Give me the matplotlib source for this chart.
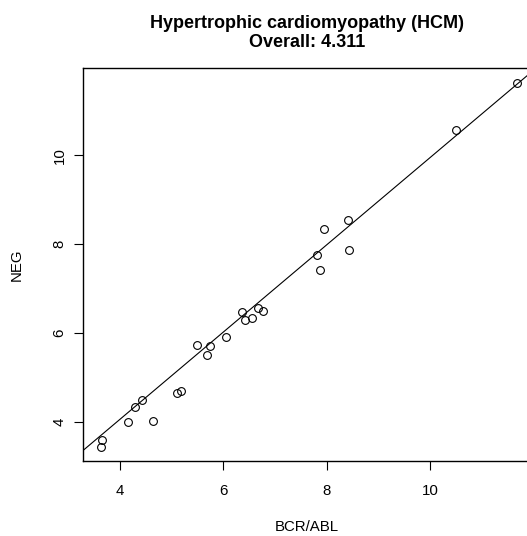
import matplotlib
matplotlib.use("Agg")
import matplotlib.pyplot as plt

# Data
bcr_abl = [3.67, 3.65, 4.17, 4.30, 4.44, 4.65, 5.11, 5.19, 5.50, 5.69, 5.74, 6.06,
           6.36, 6.43, 6.56, 6.68, 6.77, 7.82, 7.87, 7.95, 8.41, 8.43, 10.51, 11.68]
neg = [3.59, 3.44, 4.00, 4.32, 4.49, 4.01, 4.65, 4.69, 5.73, 5.51, 5.70, 5.90,
       6.46, 6.29, 6.33, 6.55, 6.50, 7.75, 7.41, 8.33, 8.54, 7.87, 10.57, 11.63]
fit_intercept = 0.114
fit_slope = 0.983
xticks = [4, 6, 8, 10]
yticks = [4, 6, 8, 10]
title = "Hypertrophic cardiomyopathy (HCM)\nOverall: 4.311"
xlabel = "BCR/ABL"
ylabel = "NEG"

plt.rcParams['font.family'] = ['Liberation Sans', 'DejaVu Sans']

W, H = 527, 536
fig = plt.figure(figsize=(W / 100, H / 100), dpi=100)
left_px, right_px, top_px, bottom_px = 83.3, 531.0, 68.0, 461.0
ax = fig.add_axes([left_px / W, 1 - bottom_px / H,
                   (right_px - left_px) / W, (bottom_px - top_px) / H])

ax.plot(bcr_abl, neg, linestyle='none', marker='o', markersize=5.6,
        markerfacecolor='none', markeredgecolor='black', markeredgewidth=0.8)
ax.axline((0, fit_intercept), slope=fit_slope, color='black', linewidth=0.8)

ax.set_xlim(3.30, 11.95)
ax.set_ylim(3.116, 11.96)
ax.set_xticks(xticks)
ax.set_yticks(yticks)
ax.set_xticklabels([str(v) for v in xticks])
ax.set_yticklabels([str(v) for v in yticks], rotation=90, va='center')

for s in ax.spines.values():
    s.set_linewidth(1.0)
ax.tick_params(axis='both', direction='out', length=6.5, width=0.8,
               labelsize=10.8, color='black')
ax.tick_params(axis='x', pad=10)
ax.tick_params(axis='y', pad=5.5)

ax.set_xlabel(xlabel, fontsize=10.8)
ax.set_ylabel(ylabel, fontsize=10.8)
axw = right_px - left_px
axh = bottom_px - top_px
ax.xaxis.set_label_coords((307 - left_px) / axw, -(527 - bottom_px) / axh)
ax.xaxis.label.set_va('center')
ax.yaxis.set_label_coords((17 - left_px) / axw, 0.5)
ax.yaxis.label.set_va('center')

fig.text(307 / W, 1 - 33 / H, title, ha='center', va='center',
         fontsize=13, fontweight='bold', linespacing=1.2)

fig.savefig("out.png", dpi=100)
